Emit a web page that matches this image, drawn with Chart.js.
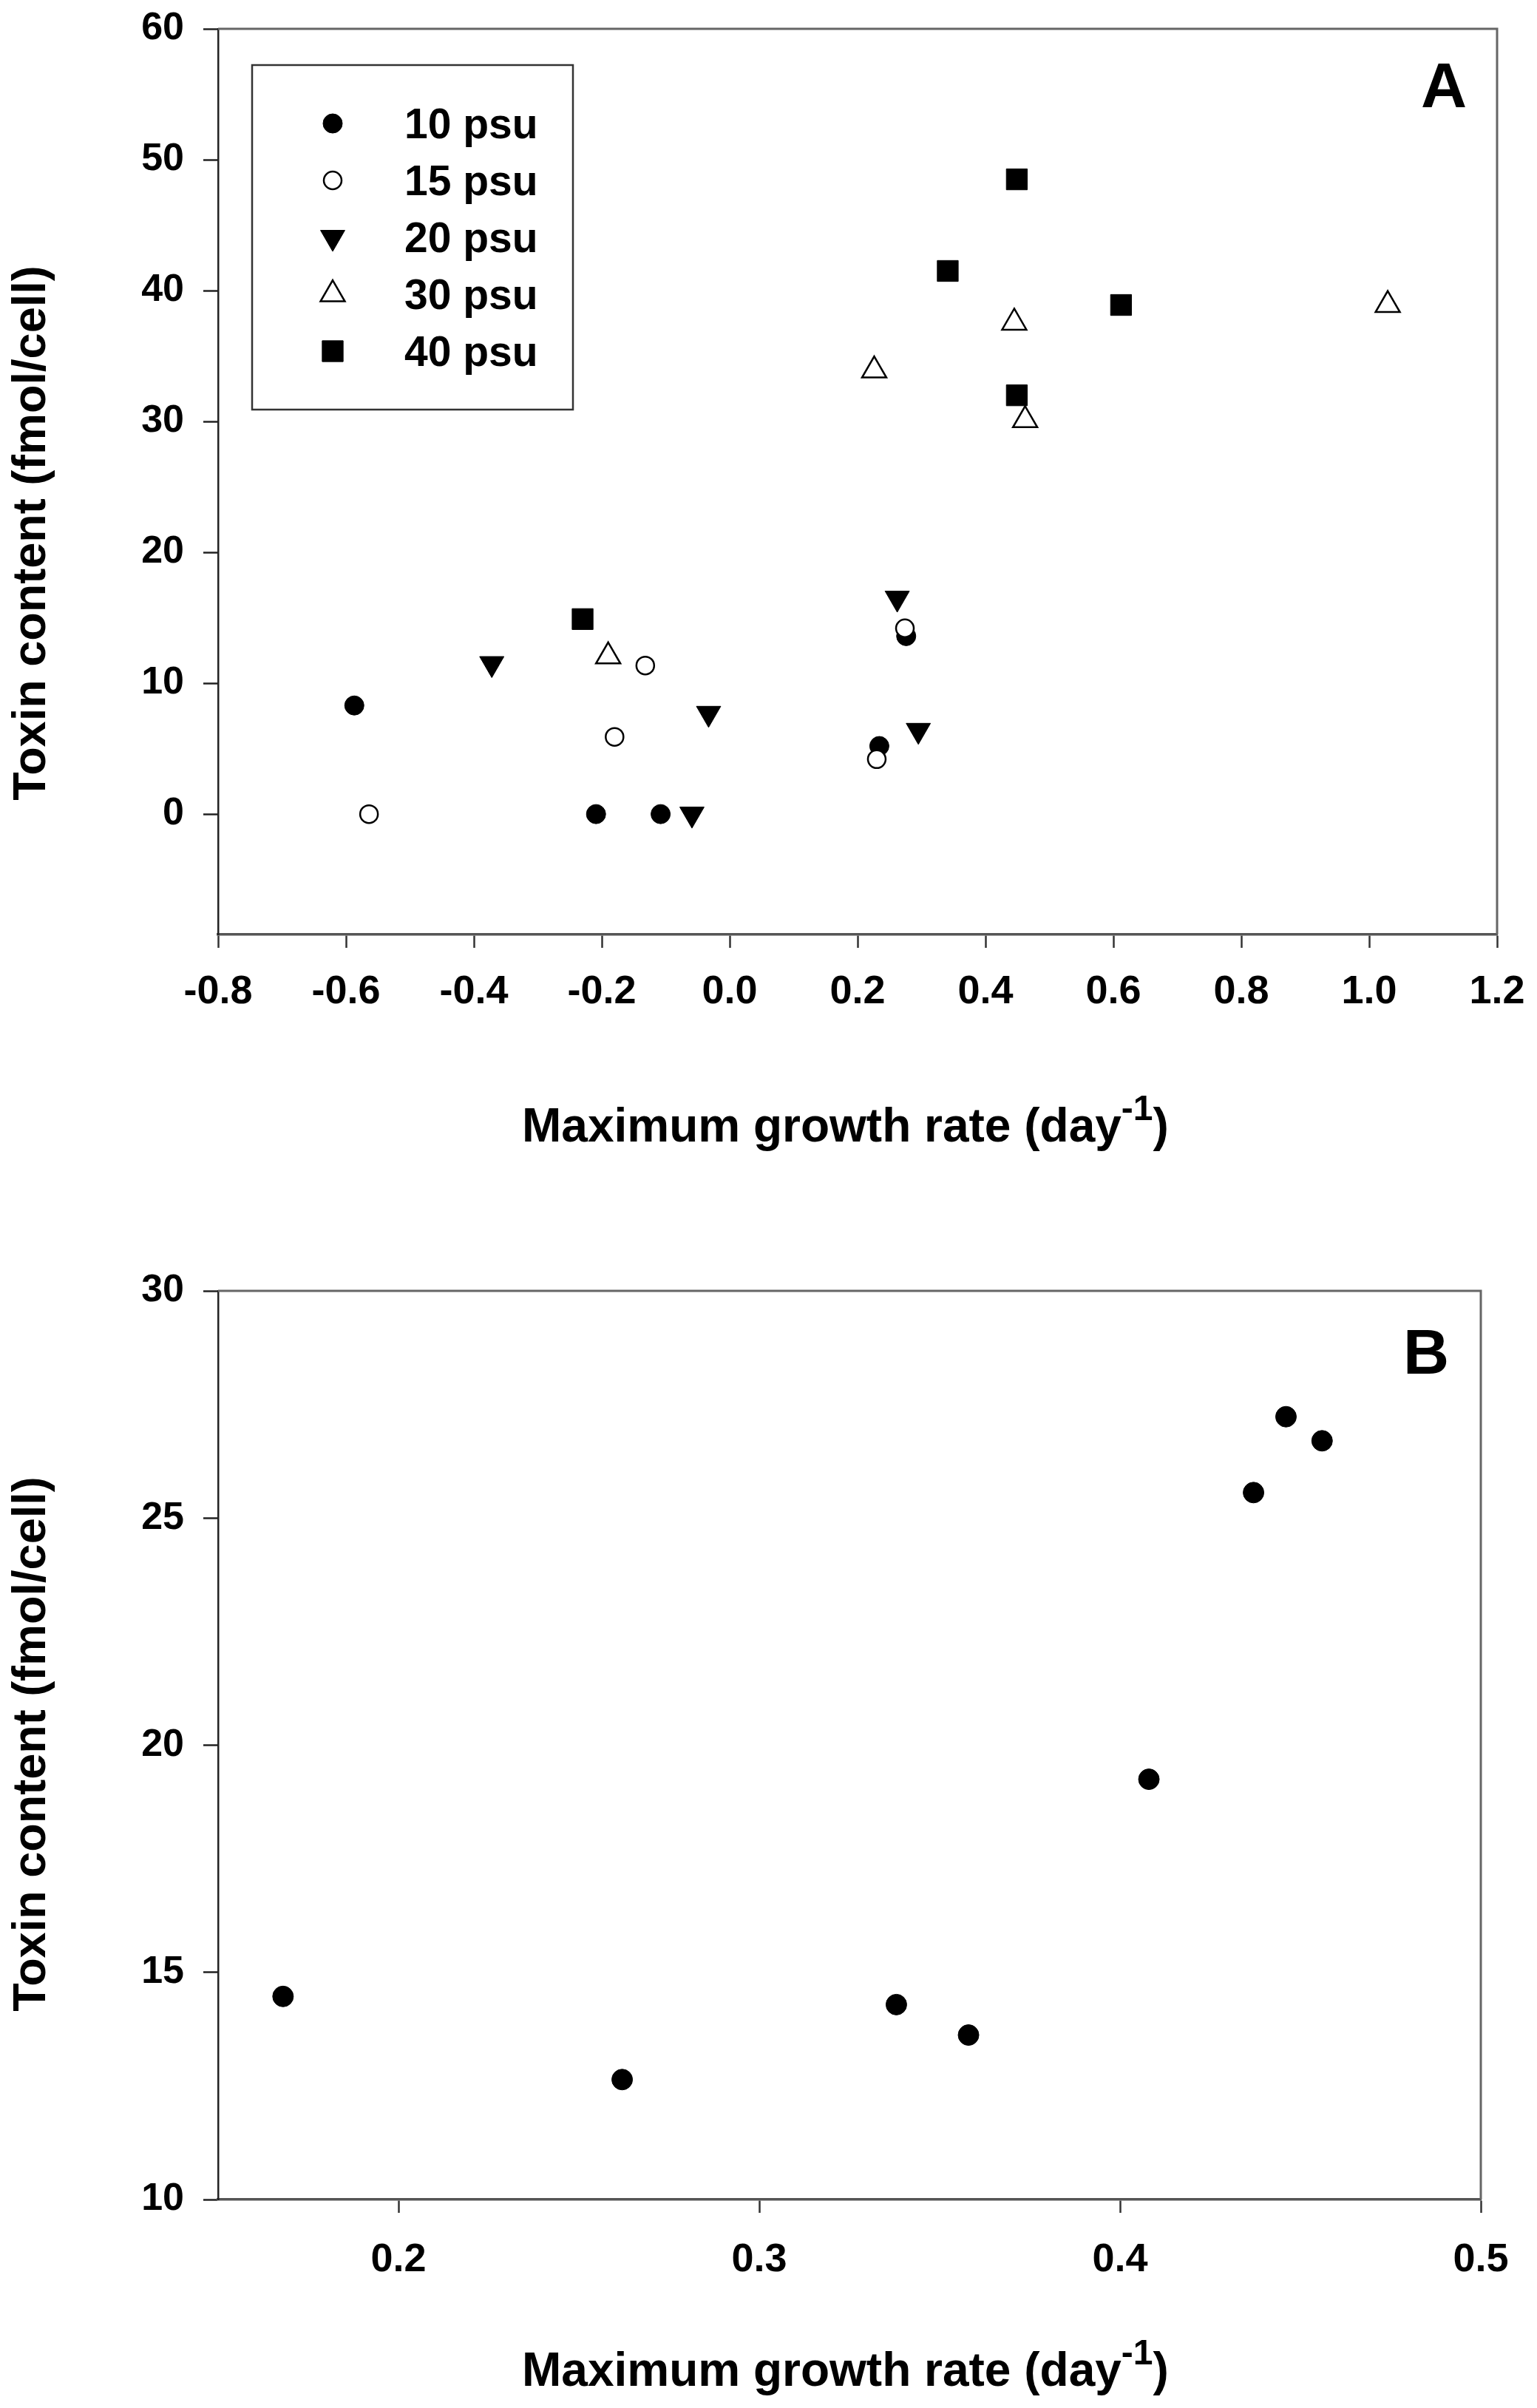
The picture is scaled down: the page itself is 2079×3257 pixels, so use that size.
<!DOCTYPE html>
<html><head><meta charset="utf-8">
<script src="https://cdn.jsdelivr.net/npm/chart.js@4.4.1/dist/chart.umd.min.js"></script>
<style>
html,body{margin:0;padding:0;background:#fff;overflow:hidden;}
#wrap{position:relative;width:2079px;height:3257px;background:#fff;}
canvas{position:absolute;left:0;}
</style></head><body>
<div id="wrap">
<canvas id="cA" width="2079" height="1640" style="top:0px"></canvas>
<canvas id="cB" width="2079" height="1617" style="top:1640px"></canvas>
</div>
<script>
// ---------- Panel A data (toxin content vs maximum growth rate, by salinity) ----------
const seriesNames = ['10 psu', '15 psu', '20 psu', '30 psu', '40 psu'];
const growth10 = [-0.587, -0.209, -0.108, 0.234, 0.276];
const toxin10  = [8.3, 0, 0, 5.2, 13.6];
const growth15 = [-0.564, -0.180, -0.132, 0.230, 0.274];
const toxin15  = [0, 5.9, 11.35, 4.2, 14.2];
const growth20 = [-0.372, -0.033, -0.059, 0.262, 0.295];
const toxin20  = [11.5, 7.7, 0, 16.5, 6.4];
const growth30 = [-0.190, 0.226, 0.445, 0.462, 1.029];
const toxin30  = [12.05, 33.9, 37.55, 30.1, 38.9];
const growth40 = [-0.230, 0.341, 0.449, 0.612, 0.449];
const toxin40  = [14.9, 41.5, 48.5, 38.9, 32.0];
const xTicksA = [-0.8, -0.6, -0.4, -0.2, 0.0, 0.2, 0.4, 0.6, 0.8, 1.0, 1.2];
const yTicksA = [0, 10, 20, 30, 40, 50, 60];

// ---------- Panel B data ----------
const growthB = [0.168, 0.262, 0.338, 0.358, 0.408, 0.437, 0.446, 0.456];
const toxinB  = [14.47, 12.64, 14.29, 13.62, 19.25, 25.56, 27.23, 26.70];
const xTicksB = [0.2, 0.3, 0.4, 0.5];
const yTicksB = [10, 15, 20, 25, 30];

const xTitle = 'Maximum growth rate (day';
const xTitleSup = '-1';
const yTitle = 'Toxin content (fmol/cell)';

const FONT = '"Liberation Sans", Arial, sans-serif';
const pts = (xs, ys) => xs.map((x, i) => ({x: x, y: ys[i]}));

const styles = [
  {pointStyle: 'circle',   rotation: 0,   radius: 13, bg: '#000', bw: 1},
  {pointStyle: 'circle',   rotation: 0,   radius: 12, bg: '#fff', bw: 2.5},
  {pointStyle: 'triangle', rotation: 180, radius: 19, bg: '#000', bw: 1},
  {pointStyle: 'triangle', rotation: 0,   radius: 19, bg: '#fff', bw: 2.5},
  {pointStyle: 'rect',     rotation: 0,   radius: 20, bg: '#000', bw: 1}
];
const drawOrder = [5, 4, 3, 1, 2];

function ds(label, data, st, order) {
  return {
    label: label, data: data, order: order,
    pointStyle: st.pointStyle, rotation: st.rotation,
    pointRadius: st.radius, pointHoverRadius: st.radius,
    backgroundColor: st.bg, borderColor: '#000', borderWidth: st.bw,
    pointBackgroundColor: st.bg, pointBorderColor: '#000', pointBorderWidth: st.bw,
    showLine: false
  };
}

const decorPlugin = {
  id: 'decor',
  afterDraw(chart, args, o) {
    const ctx = chart.ctx, a = chart.chartArea;
    ctx.save();
    // top & right frame
    ctx.strokeStyle = '#666'; ctx.lineWidth = 3;
    ctx.beginPath();
    ctx.moveTo(a.left, a.top); ctx.lineTo(a.right, a.top); ctx.lineTo(a.right, a.bottom);
    ctx.stroke();
    ctx.fillStyle = '#000';
    // panel letter
    ctx.font = 'bold 86px ' + FONT; ctx.textAlign = 'center'; ctx.textBaseline = 'alphabetic';
    ctx.fillText(o.letter, a.right - o.letterDX, a.top + o.letterDY);
    // x title with superscript
    ctx.textAlign = 'left';
    let x = o.xTitleX;
    ctx.font = 'bold 64px ' + FONT;
    ctx.fillText(xTitle, x, o.xTitleY); x += ctx.measureText(xTitle).width;
    ctx.font = 'bold 48px ' + FONT;
    ctx.fillText(xTitleSup, x, o.xTitleY - 29); x += ctx.measureText(xTitleSup).width;
    ctx.font = 'bold 64px ' + FONT;
    ctx.fillText(')', x, o.xTitleY);
    // y title
    ctx.save();
    ctx.translate(o.yTitleX, o.yTitleY); ctx.rotate(-Math.PI / 2);
    ctx.font = 'bold 63px ' + FONT; ctx.textAlign = 'center';
    ctx.fillText(yTitle, 0, 0);
    ctx.restore();
    // legend
    if (o.legend) {
      const L = o.legend;
      ctx.strokeStyle = '#333'; ctx.lineWidth = 2.5;
      ctx.strokeRect(L.x, L.y, L.w, L.h);
      chart.data.datasets.slice().sort((p, q) => seriesNames.indexOf(p.label) - seriesNames.indexOf(q.label)).forEach((d, i) => {
        const cy = L.y + L.firstRow + i * L.rowGap;
        ctx.fillStyle = d.pointBackgroundColor; ctx.strokeStyle = '#000'; ctx.lineWidth = d.pointBorderWidth;
        Chart.helpers.drawPoint(ctx, {pointStyle: d.pointStyle, rotation: d.rotation, radius: d.pointRadius, borderWidth: d.pointBorderWidth}, L.x + L.markerDX, cy);
        ctx.fillStyle = '#000';
        ctx.font = 'bold 57px ' + FONT; ctx.textAlign = 'left'; ctx.textBaseline = 'alphabetic';
        ctx.fillText(d.label, L.x + L.textDX, cy + 20);
      });
    }
    ctx.restore();
  }
};

function axisX(min, max, tickVals, fmt, h, pad) {
  return {
    type: 'linear', position: 'bottom', min: min, max: max,
    afterBuildTicks: s => { s.ticks = tickVals.map(v => ({value: v})); },
    afterFit: s => { s.height = h; s.paddingLeft = 0; s.paddingRight = 0; },
    grid: {drawOnChartArea: false, drawTicks: true, tickLength: 18, tickWidth: 2.5, tickColor: '#333'},
    border: {display: true, color: '#555', width: 3.5},
    ticks: {font: {family: FONT, weight: 'bold', size: 54}, color: '#000', padding: pad,
            maxRotation: 0, minRotation: 0, autoSkip: false, callback: v => fmt(v)}
  };
}
function axisY(min, max, tickVals, w) {
  return {
    type: 'linear', position: 'left', min: min, max: max,
    afterBuildTicks: s => { s.ticks = tickVals.map(v => ({value: v})); },
    afterFit: s => { s.width = w; s.paddingTop = 0; s.paddingBottom = 0; },
    grid: {drawOnChartArea: false, drawTicks: true, tickLength: 20, tickWidth: 2.5, tickColor: '#222'},
    border: {display: true, color: '#222', width: 2.5},
    ticks: {font: {family: FONT, weight: 'bold', size: 52}, color: '#000', padding: 26,
            autoSkip: false, callback: v => String(v)}
  };
}

// Panel A
const dataA = [
  pts(growth10, toxin10), pts(growth15, toxin15), pts(growth20, toxin20),
  pts(growth30, toxin30), pts(growth40, toxin40)
];
new Chart(document.getElementById('cA'), {
  type: 'scatter',
  data: {datasets: seriesNames.map((n, i) => ds(n, dataA[i], styles[i], drawOrder[i]))},
  options: {
    responsive: false, devicePixelRatio: 1, animation: false, events: [],
    layout: {padding: {left: 20, right: 54, top: 39, bottom: 76}},
    plugins: {
      legend: {display: false}, tooltip: {enabled: false},
      decor: {letter: 'A', letterDX: 72, letterDY: 106, xTitleX: 706, xTitleY: 1544, yTitleX: 61, yTitleY: 721,
              legend: {x: 341, y: 88, w: 434, h: 466, firstRow: 79, rowGap: 77, markerDX: 109, textDX: 206}}
    },
    scales: {
      x: axisX(-0.8, 1.2, xTicksA, v => v.toFixed(1), 300, 28),
      y: axisY(-9.2, 60, yTicksA, 275)
    }
  },
  plugins: [decorPlugin]
});

// Panel B
new Chart(document.getElementById('cB'), {
  type: 'scatter',
  data: {datasets: [ds('B', pts(growthB, toxinB), Object.assign({}, styles[0], {radius: 14}), 1)]},
  options: {
    responsive: false, devicePixelRatio: 1, animation: false, events: [],
    layout: {padding: {left: 20, right: 76, top: 106, bottom: 82}},
    plugins: {
      legend: {display: false}, tooltip: {enabled: false},
      decor: {letter: 'B', letterDX: 74, letterDY: 112, xTitleX: 706, xTitleY: 1587, yTitleX: 61, yTitleY: 719}
    },
    scales: {
      x: axisX(0.15, 0.5, xTicksB, v => v.toFixed(1), 200, 32),
      y: axisY(10, 30, yTicksB, 275)
    }
  },
  plugins: [decorPlugin]
});
</script>
</body></html>
